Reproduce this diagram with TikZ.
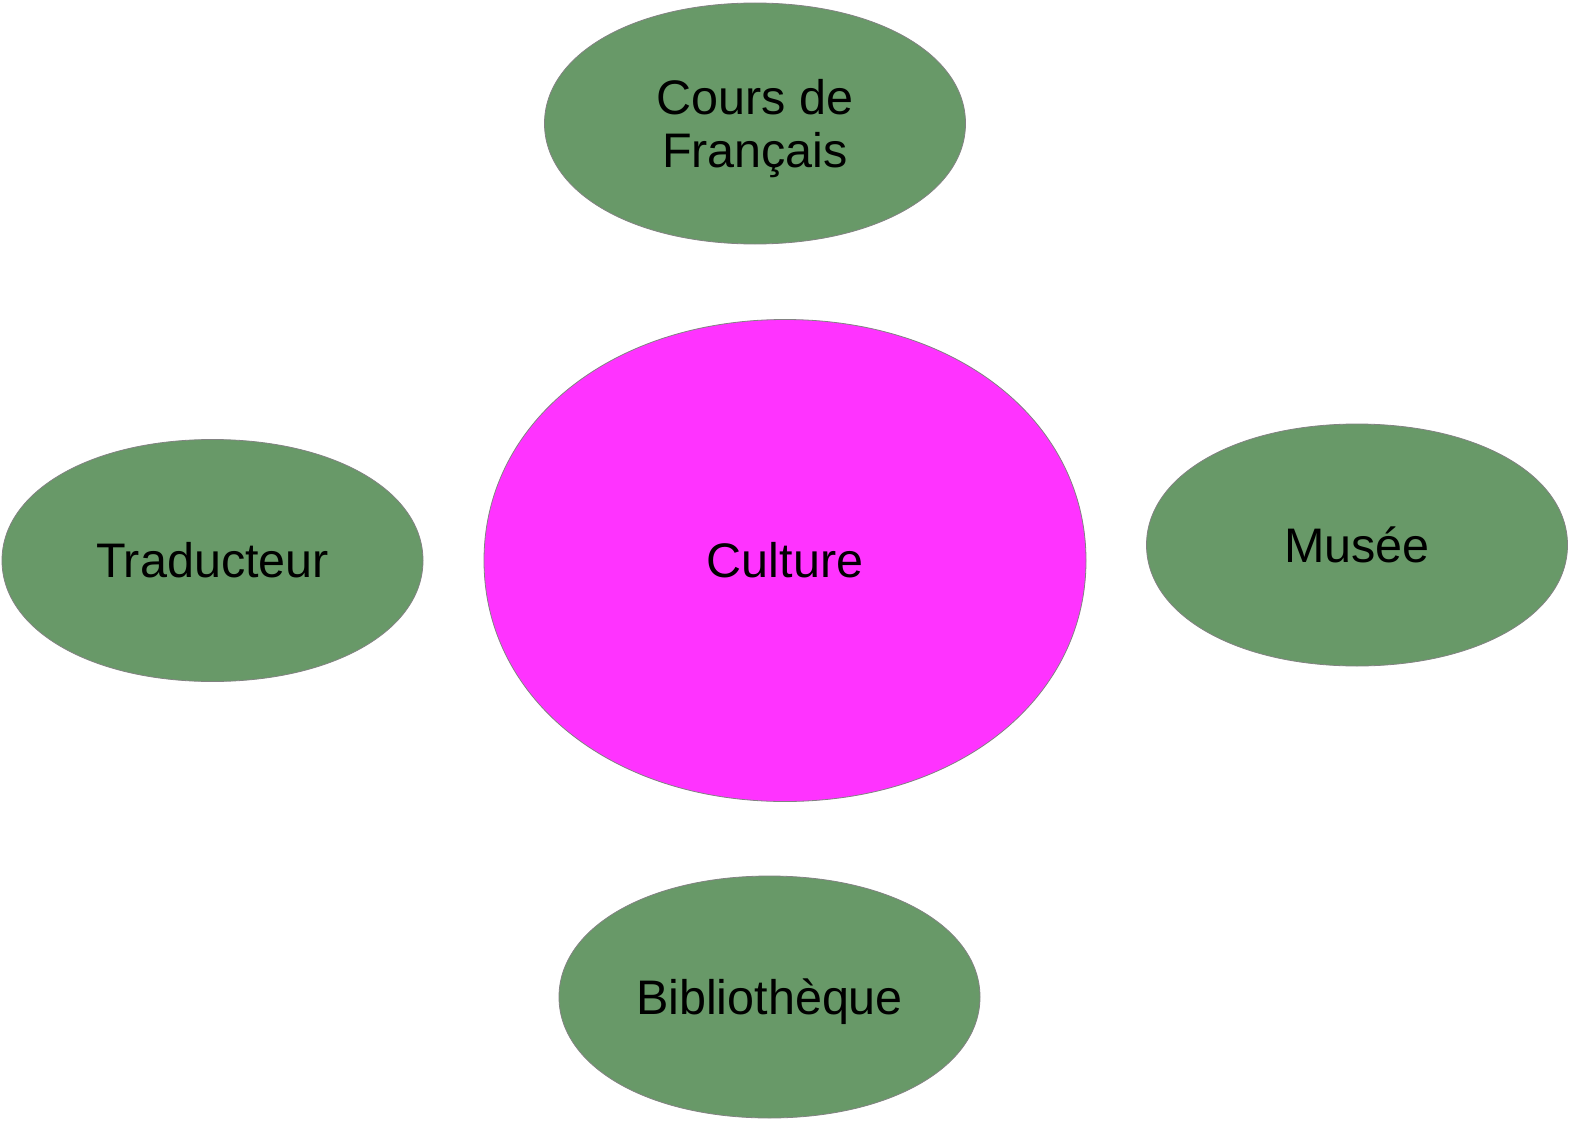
\documentclass[tikz,border=0pt]{standalone}
\usepackage{fontspec}
\setmainfont{Liberation Sans}
\usetikzlibrary{shapes.geometric,backgrounds}
\definecolor{leaf}{RGB}{104,153,104}
\definecolor{mag}{RGB}{255,51,255}
\definecolor{rim}{RGB}{130,130,130}
\newcommand{\blobpath}[4]{% node, rx, ry, style
  \path[#4, shift={(#1.center)}, x=#2pt, y=#3pt]
    (1,0) .. controls (1,0.575) and (0.575,1) .. (0,1)
    .. controls (-0.575,1) and (-1,0.575) .. (-1,0)
    .. controls (-1,-0.575) and (-0.575,-1) .. (0,-1)
    .. controls (0.575,-1) and (1,-0.575) .. (1,0) -- cycle;}
\begin{document}
\begin{tikzpicture}[x=1pt,y=-1pt,
  blob/.style={ellipse, inner sep=0pt, align=center,
    font=\fontsize{48.5}{52.5}\selectfont, text height=34.7pt, text depth=0pt},
  sat/.style={blob, minimum width=422pt, minimum height=242pt},
  hub/.style={blob, minimum width=604pt, minimum height=483pt},
  satfill/.style={fill=leaf, draw=rim, line width=0.8pt},
  hubfill/.style={fill=mag, draw=rim, line width=0.8pt}]
\useasboundingbox (0,0) rectangle (1574,1124);
\node[hub] (culture) at (785,560.5) {Culture};
\node[sat, text height=87.2pt] (cours) at (755,123.5) {Cours de\\Français};
\node[sat] (trad) at (212.5,560.5) {Traducteur};
\node[sat] (musee) at (1357,545) {Musée};
\node[sat] (biblio) at (769.5,997) {Bibliothèque};
\begin{scope}[on background layer]
  \blobpath{culture}{301}{241}{hubfill}
  \blobpath{cours}{210.5}{120.5}{satfill}
  \blobpath{trad}{210.5}{121}{satfill}
  \blobpath{musee}{210.5}{121}{satfill}
  \blobpath{biblio}{210.5}{121}{satfill}
\end{scope}
\end{tikzpicture}
\end{document}
